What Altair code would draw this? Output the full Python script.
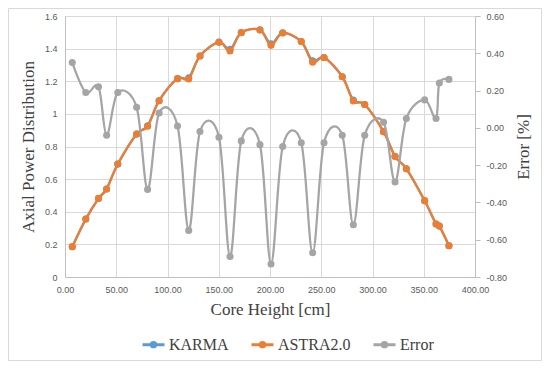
import altair as alt
import pandas as pd

height_cm = [7.1, 20.3, 32.7, 40.6, 51.5, 69.9, 80.6, 91.8, 109.8, 120.7,
             131.7, 150.2, 161.0, 172.0, 190.2, 201.0, 212.4, 230.5, 241.6, 252.7,
             270.5, 281.3, 292.4, 310.8, 322.0, 333.0, 350.9, 362.0, 365.2, 374.6]
karma = [0.185, 0.355, 0.481, 0.540, 0.692, 0.876, 0.927, 1.080, 1.216, 1.221,
         1.355, 1.440, 1.396, 1.499, 1.515, 1.430, 1.497, 1.444, 1.325, 1.346,
         1.228, 1.085, 1.057, 0.891, 0.740, 0.664, 0.467, 0.325, 0.312, 0.192]
astra = [0.186, 0.356, 0.482, 0.540, 0.693, 0.877, 0.924, 1.081, 1.216, 1.214,
         1.355, 1.439, 1.386, 1.498, 1.514, 1.420, 1.496, 1.443, 1.316, 1.345,
         1.228, 1.079, 1.057, 0.891, 0.738, 0.664, 0.468, 0.325, 0.313, 0.192]
error = [0.35, 0.19, 0.22, -0.04, 0.19, 0.11, -0.33, 0.08, 0.01, -0.55,
         -0.02, -0.05, -0.69, -0.07, -0.09, -0.73, -0.10, -0.08, -0.67, -0.08,
         -0.04, -0.52, -0.04, 0.03, -0.29, 0.05, 0.15, 0.05, 0.24, 0.26]

series_names = ["KARMA", "ASTRA2.0", "Error"]
series_colors = ["#5B9BD5", "#ED7D31", "#A5A5A5"]
x_ticks = [0, 50, 100, 150, 200, 250, 300, 350, 400]
left_ticks = [0, 0.2, 0.4, 0.6, 0.8, 1.0, 1.2, 1.4, 1.6]
right_ticks = [-0.8, -0.6, -0.4, -0.2, 0.0, 0.2, 0.4, 0.6]

df_karma = pd.DataFrame({"h": height_cm, "v": karma, "s": "KARMA"})
df_astra = pd.DataFrame({"h": height_cm, "v": astra, "s": "ASTRA2.0"})
df_err = pd.DataFrame({"h": height_cm, "v": error, "s": "Error"})

LABEL_FONT = "Liberation Sans"
TITLE_FONT = "Liberation Serif"
GRID = "#d9d9d9"

legend_path = "M-1,0L1,0M0.2,0A0.2,0.2,0,1,1,-0.2,0A0.2,0.2,0,1,1,0.2,0"

color_scale = alt.Scale(domain=series_names, range=series_colors)

x_enc = alt.X(
    "h:Q",
    scale=alt.Scale(domain=[0, 400], nice=False),
    axis=alt.Axis(
        title="Core Height [cm]", values=x_ticks, format=".2f",
        ticks=False, domainColor="#bfbfbf", gridColor=GRID, grid=True,
        labelFlush=False,
        labelFont=LABEL_FONT, labelFontSize=9, labelColor="#595959",
        labelPadding=8, titleFont=TITLE_FONT, titleFontSize=17,
        titleFontWeight="normal", titleColor="#404040", titlePadding=7,
    ),
)

left_axis = alt.Axis(
    title="Axial Power Distribution", values=left_ticks, format="~g",
    ticks=False, domainColor="#bfbfbf", gridColor=GRID, grid=True,
    labelFlush=False,
    labelFont=LABEL_FONT, labelFontSize=9, labelColor="#595959",
    labelPadding=8, titleFont=TITLE_FONT, titleFontSize=17,
    titleFontWeight="normal", titleColor="#404040", titlePadding=7,
)

right_axis = alt.Axis(
    title="Error [%]", orient="right", values=right_ticks,
    labelExpr="replace(format(datum.value, '.2f'), '\u2212', '-')",
    labelFlush=False,
    ticks=True, tickSize=5, tickColor="#bfbfbf", domainColor="#bfbfbf",
    grid=False, labelFont=LABEL_FONT, labelFontSize=9, labelColor="#595959",
    labelPadding=6, titleFont=TITLE_FONT, titleFontSize=17,
    titleFontWeight="normal", titleColor="#404040", titlePadding=26,
    titleAngle=270,
)

legend = alt.Legend(
    title=None, orient="none", direction="horizontal", legendX=76, legendY=316,
    symbolType=legend_path, symbolSize=484, symbolStrokeWidth=3,
    labelFont=TITLE_FONT, labelFontSize=16, labelColor="#404040",
    labelOffset=3, columnPadding=16,
)


def series_layer(df, y_axis, y_domain, show_legend):
    return alt.Chart(df).mark_line(
        interpolate="cardinal", strokeWidth=2.25,
        point=alt.OverlayMarkDef(filled=True, size=50, opacity=1),
    ).encode(
        x=x_enc,
        y=alt.Y("v:Q", scale=alt.Scale(domain=y_domain, nice=False), axis=y_axis),
        color=alt.Color("s:N", scale=color_scale, legend=legend if show_legend else None),
    )


left_layers = alt.layer(
    series_layer(df_karma, left_axis, [0, 1.6], True),
    series_layer(df_astra, left_axis, [0, 1.6], True),
)
right_layer = series_layer(df_err, right_axis, [-0.8, 0.6], True)

border = alt.Chart(pd.DataFrame({"a": [0]})).mark_rect(
    fillOpacity=0, stroke="#d9d9d9", strokeWidth=1, clip=False,
).encode(x=alt.value(-56.5), x2=alt.value(476.5), y=alt.value(-7.5), y2=alt.value(344.5))

chart = alt.layer(left_layers, right_layer, border).resolve_scale(
    y="independent"
).properties(
    width=410, height=261,
    autosize=alt.AutoSizeParams(type="none"),
    padding={"left": 57, "top": 8, "right": 67, "bottom": 84},
).configure_view(stroke=None)

chart.save("out.html", embed_options={"renderer": "svg", "actions": False})
